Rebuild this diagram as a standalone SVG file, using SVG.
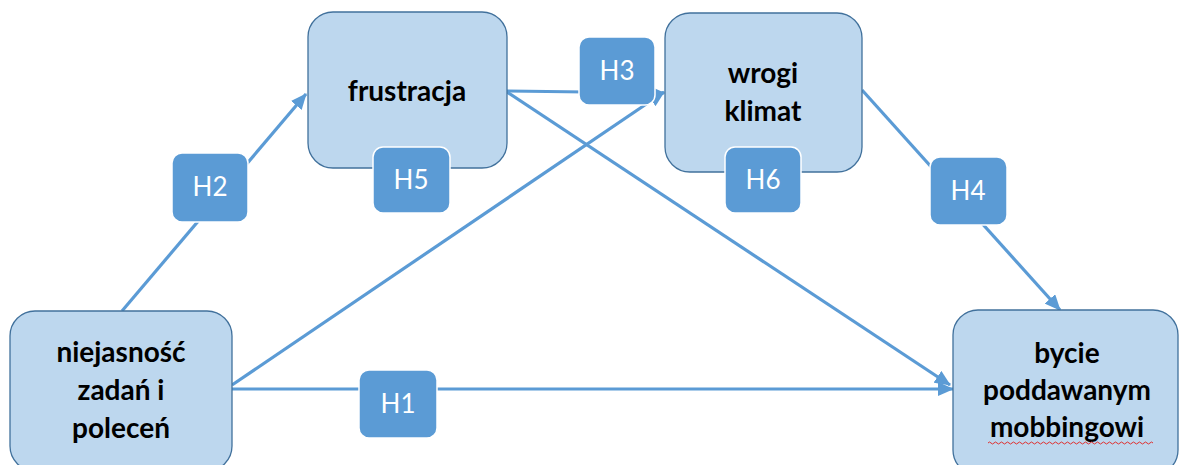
<svg xmlns="http://www.w3.org/2000/svg" width="1184" height="465" viewBox="0 0 1184 465">
<defs>
<style>
.node{fill:#BDD7EE;stroke:#41719C;stroke-width:1.3}
.lab{fill:#5B9BD5;stroke:#FFFFFF;stroke-width:1.5}
.conn{stroke:#5B9BD5;stroke-width:3.2;fill:none}
.nt{font-family:Lato,"Liberation Sans",sans-serif;font-weight:bold;font-size:28px;fill:#000;text-anchor:middle}
.lt{font-family:Lato,"Liberation Sans",sans-serif;font-size:26px;fill:#FFFFFF;text-anchor:middle}
</style>
<marker id="arr" markerUnits="userSpaceOnUse" markerWidth="16" markerHeight="14" viewBox="0 0 16 14" refX="15" refY="7" orient="auto">
<path d="M0,0 L16,7 L0,14 Z" fill="#5B9BD5"/>
</marker>
</defs>
<rect width="1184" height="465" fill="#FFFFFF"/>
<g id="connectors">
<path class="conn" d="M122,311 L306,94" marker-end="url(#arr)"/>
<path class="conn" d="M232,385 L664,92" marker-end="url(#arr)"/>
<path class="conn" d="M232,389 L953,389" marker-end="url(#arr)"/>
<path class="conn" d="M507,92 L950,385" marker-end="url(#arr)"/>
<path class="conn" d="M507,91 L664,93" marker-end="url(#arr)"/>
<path class="conn" d="M862,90 L1060,310" marker-end="url(#arr)"/>
</g>
<g id="node-niejasnosc">
<rect class="node" x="10" y="311" width="222" height="160" rx="25"/>
<text class="nt" x="121" y="362">niejasność</text>
<text class="nt" x="121" y="400">zadań i</text>
<text class="nt" x="121" y="438">poleceń</text>
</g>
<g id="node-frustracja">
<rect class="node" x="308" y="12" width="199" height="156" rx="25"/>
<text class="nt" x="407" y="101">frustracja</text>
</g>
<g id="node-wrogi">
<rect class="node" x="665" y="13" width="197" height="159" rx="25"/>
<text class="nt" x="763" y="83">wrogi</text>
<text class="nt" x="763" y="121">klimat</text>
</g>
<g id="node-bycie">
<rect class="node" x="953" y="310" width="225" height="165" rx="25"/>
<text class="nt" x="1067" y="363">bycie</text>
<text class="nt" x="1067" y="400">poddawanym</text>
<text class="nt" x="1067" y="437">mobbingowi</text>
<path d="M988,443 q1.5,-2 3,0 t3,0 t3,0 t3,0 t3,0 t3,0 t3,0 t3,0 t3,0 t3,0 t3,0 t3,0 t3,0 t3,0 t3,0 t3,0 t3,0 t3,0 t3,0 t3,0 t3,0 t3,0 t3,0 t3,0 t3,0 t3,0 t3,0 t3,0 t3,0 t3,0 t3,0 t3,0 t3,0 t3,0 t3,0 t3,0 t3,0 t3,0 t3,0 t3,0 t3,0 t3,0 t3,0 t3,0 t3,0 t3,0 t3,0 t3,0 t3,0 t3,0 t3,0 t3,0 t3,0 t3,0 t3,0" fill="none" stroke="#E03030" stroke-width="1"/>
</g>
<g id="label-H1">
<rect class="lab" x="359" y="370" width="78" height="68" rx="10"/>
<text class="lt" x="398" y="413">H1</text>
</g>
<g id="label-H2">
<rect class="lab" x="172" y="153" width="76" height="69" rx="10"/>
<text class="lt" x="210" y="196">H2</text>
</g>
<g id="label-H3">
<rect class="lab" x="579" y="37" width="76" height="68" rx="10"/>
<text class="lt" x="617" y="80">H3</text>
</g>
<g id="label-H4">
<rect class="lab" x="930" y="157" width="77" height="68" rx="10"/>
<text class="lt" x="968" y="200">H4</text>
</g>
<g id="label-H5">
<rect class="lab" x="373" y="147" width="77" height="66" rx="10"/>
<text class="lt" x="411" y="189">H5</text>
</g>
<g id="label-H6">
<rect class="lab" x="725" y="147" width="76" height="66" rx="10"/>
<text class="lt" x="763" y="189">H6</text>
</g>
</svg>
